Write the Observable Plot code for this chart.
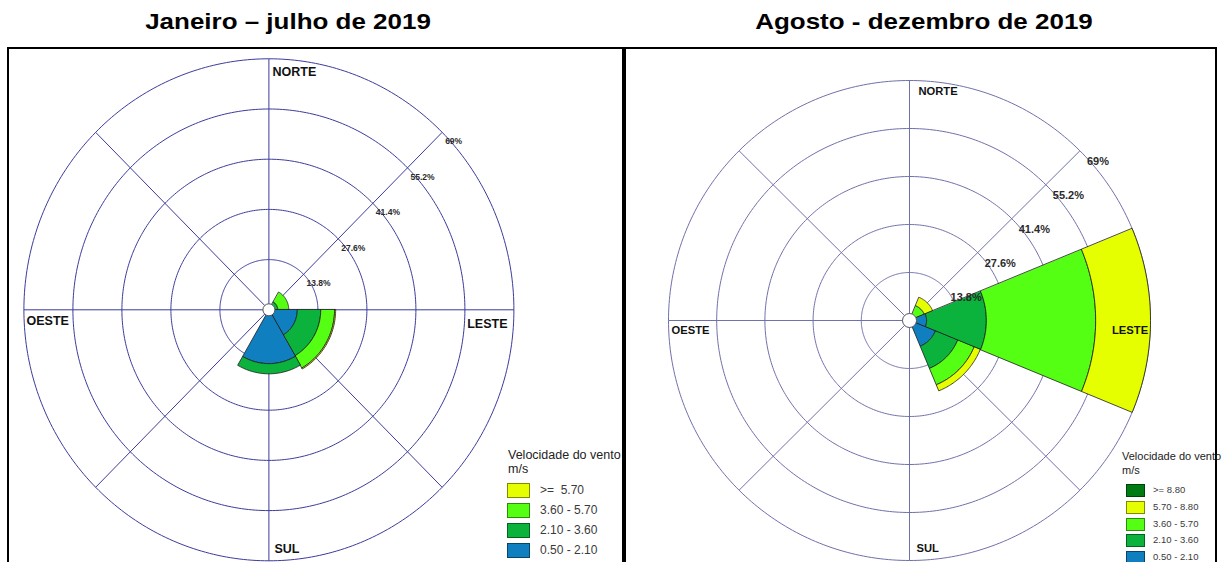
<!DOCTYPE html>
<html>
<head>
<meta charset="utf-8">
<script src="https://cdn.jsdelivr.net/npm/d3@7"></script>
<script src="https://cdn.jsdelivr.net/npm/@observablehq/plot@0.6"></script>
<style>
  html, body { margin: 0; padding: 0; background: #fff; }
  body { width: 1230px; height: 562px; overflow: hidden; position: relative; font-family: "Liberation Sans", Arial, sans-serif; }
  .title { position: absolute; top: 11px; font-weight: bold; font-size: 22px; line-height: 22px; white-space: nowrap; color: #000; transform: translateX(-50%) scaleX(1.18); }
  .panel { position: absolute; border: 2px solid #000; box-sizing: border-box; overflow: hidden; background: #fff; }
  .panel svg { position: absolute; left: 0; top: 0; }
  .lg { position: absolute; white-space: pre; color: #222; }
  .sw { position: absolute; box-sizing: border-box; border: 1px solid rgba(0,0,0,0.45); }
</style>
</head>
<body>
<script>
// ---------- shared data ----------
const ringValues = [13.8, 27.6, 41.4, 55.2, 69];
const ringLabels = ["13.8%", "27.6%", "41.4%", "55.2%", "69%"];
const cardinalLabels = ["NORTE", "LESTE", "SUL", "OESTE"];
const spokeBearings = [0, 45, 90, 135, 180, 225, 270, 315];
const legendTitle = "Velocidade do vento";
const legendUnit = "m/s";

// ---------- left panel: Janeiro – julho de 2019 ----------
const leftTitle = "Janeiro – julho de 2019";
const leftDirections = [60, 120, 180];          // sector centre bearings (deg)
const leftSectorWidth = 60;
const leftClassLabels = ["0.50 - 2.10", "2.10 - 3.60", "3.60 - 5.70", ">=  5.70"];
const leftClassColors = ["#0f7fc0", "#0bb33c", "#55ff14", "#e6ff00"];
const leftBlue = [0.8, 8.0, 14.8];
const leftGreen = [1.7, 6.6, 2.8];
const leftLightGreen = [3.1, 3.9, 0];
const leftYellow = [0, 0.3, 0];

// ---------- right panel: Agosto - dezembro de 2019 ----------
const rightTitle = "Agosto - dezembro de 2019";
const rightDirections = [45, 90, 135];
const rightSectorWidth = 45;
const rightClassLabels = ["0.50 - 2.10", "2.10 - 3.60", "3.60 - 5.70", "5.70 - 8.80", ">= 8.80"];
const rightClassColors = ["#0f7fc0", "#0bb33c", "#55ff14", "#e6ff00", "#007a12"];
const rightBlue = [0, 4.9, 8.0];
const rightGreen = [0, 17.1, 6.9];
const rightLightGreen = [4.6, 31.3, 5.1];
const rightYellow = [2.6, 15.7, 1.9];
const rightDarkGreen = [0, 0, 0];

// ---------- helpers ----------
const rad = d => d * Math.PI / 180;
function wedgeRows(directions, width, series, colors) {
  const rows = [];
  directions.forEach((dir, i) => {
    let r0 = 0;
    series.forEach((vals, k) => {
      const v = vals[i];
      if (!(v > 0)) return;
      const r1 = r0 + v, id = i + "-" + k, n = 40;
      const a0 = dir - width / 2, a1 = dir + width / 2;
      for (let j = 0; j <= n; j++) {
        const a = rad(a0 + (a1 - a0) * j / n);
        rows.push({id, color: colors[k], x: r1 * Math.sin(a), y: r1 * Math.cos(a)});
      }
      if (r0 > 0) {
        for (let j = n; j >= 0; j--) {
          const a = rad(a0 + (a1 - a0) * j / n);
          rows.push({id, color: colors[k], x: r0 * Math.sin(a), y: r0 * Math.cos(a)});
        }
      } else rows.push({id, color: colors[k], x: 0, y: 0});
      r0 = r1;
    });
  });
  return rows;
}
function ringRows(values) {
  const rows = [];
  values.forEach(v => { for (let a = 0; a < 360; a += 1) rows.push({ring: v, x: v * Math.sin(rad(a)), y: v * Math.cos(rad(a))}); });
  return rows;
}

function rose(cfg) {
  const maxR = ringValues[ringValues.length - 1];
  const font = "Liberation Sans, Arial, sans-serif";
  const cardPos = [[0, maxR], [maxR, 0], [0, -maxR], [-maxR, 0]];
  const cardMarks = cardinalLabels.map((lab, i) => Plot.text([lab], {
    x: () => cardPos[i][0], y: () => cardPos[i][1], text: d => d,
    textAnchor: cfg.card[i][2], lineAnchor: "middle", dx: cfg.card[i][0], dy: cfg.card[i][1],
    fontSize: cfg.cardSize, fontWeight: "bold", fill: "#111", fontFamily: font, ariaLabel: "lblbg"
  }));
  return Plot.plot({
    width: cfg.width, height: cfg.height, margin: 0,
    x: {domain: [-maxR, maxR], range: [cfg.cx - cfg.rx, cfg.cx + cfg.rx], axis: null},
    y: {domain: [-maxR, maxR], range: [cfg.cy + cfg.ry, cfg.cy - cfg.ry], axis: null},
    color: {type: "identity"},
    style: {background: "transparent", overflow: "visible"},
    marks: [
      Plot.line(ringRows(ringValues), {x: "x", y: "y", z: "ring", stroke: cfg.ringColor, strokeWidth: 1, curve: "linear-closed"}),
      Plot.link(spokeBearings, {x1: () => 0, y1: () => 0, x2: d => maxR * Math.sin(rad(d)), y2: d => maxR * Math.cos(rad(d)), stroke: cfg.ringColor, strokeWidth: 1}),
      Plot.line(wedgeRows(cfg.dirs, cfg.sectorWidth, cfg.series, cfg.colors), {x: "x", y: "y", z: "id", fill: "color", stroke: "#1c1c1c", strokeWidth: 0.8, curve: "linear-closed"}),
      Plot.dot([0], {x: () => 0, y: () => 0, r: cfg.hole, fill: "white", stroke: "#555", strokeWidth: 1}),
      Plot.text(ringValues, {x: d => d * Math.SQRT1_2, y: d => d * Math.SQRT1_2, text: (d, i) => ringLabels[i],
        textAnchor: "start", lineAnchor: "middle", dx: cfg.ringDx, dy: cfg.ringDy, fontSize: cfg.ringSize,
        fontWeight: "bold", fill: "#2a2a2a", fontFamily: font, ariaLabel: "lblbg"}),
      ...cardMarks
    ]
  });
}

function addLabelBoxes(svg) {
  svg.querySelectorAll('g[aria-label="lblbg"] text').forEach(t => {
    const b = t.getBBox();
    const r = document.createElementNS("http://www.w3.org/2000/svg", "rect");
    r.setAttribute("x", b.x - 1); r.setAttribute("y", b.y);
    r.setAttribute("width", b.width + 2); r.setAttribute("height", b.height);
    r.setAttribute("fill", "white");
    const tr = t.getAttribute("transform"); if (tr) r.setAttribute("transform", tr);
    t.parentNode.insertBefore(r, t);
  });
}

function addDiv(cls, style, text) {
  const d = document.createElement("div");
  d.className = cls; Object.assign(d.style, style);
  if (text != null) d.textContent = text;
  document.body.appendChild(d);
  return d;
}

function legend(cfg) {
  addDiv("lg", {left: cfg.x + "px", top: (cfg.titleY - 8) + "px", fontSize: cfg.titleSize + "px", lineHeight: "16px"}, legendTitle);
  addDiv("lg", {left: cfg.x + "px", top: (cfg.unitY - 8) + "px", fontSize: cfg.titleSize + "px", lineHeight: "16px"}, legendUnit);
  cfg.labels.forEach((lab, i) => {
    const cy = cfg.rowY[i];
    addDiv("sw", {left: cfg.swX + "px", top: (cy - cfg.swH / 2) + "px", width: cfg.swW + "px", height: cfg.swH + "px", background: cfg.colors[i]});
    addDiv("lg", {left: cfg.labX + "px", top: (cy - 7) + "px", fontSize: cfg.labSize + "px", lineHeight: "14px", color: "#3a3a3a"}, lab);
  });
}

// ---------- titles ----------
addDiv("title", {left: "288px"}, leftTitle);
addDiv("title", {left: "924px"}, rightTitle);

// ---------- panels ----------
const leftPanel = addDiv("panel", {left: "7px", top: "47px", width: "617px", height: "540px"});
const rightPanel = addDiv("panel", {left: "624px", top: "47px", width: "593px", height: "540px"});

const leftSvg = rose({
  width: 613, height: 520, cx: 259.4, cy: 260.3, rx: 245, ry: 251,
  dirs: leftDirections, sectorWidth: leftSectorWidth,
  series: [leftBlue, leftGreen, leftLightGreen, leftYellow], colors: leftClassColors,
  ringColor: "#3b3b9c", hole: 6, ringDx: 3, ringDy: 9, ringSize: 8.5, cardSize: 12.5,
  card: [[3.6, 12.7, "start"], [-6.4, 13.7, "end"], [5.6, -12.3, "start"], [2.6, 10.7, "start"]]
});
leftPanel.appendChild(leftSvg);

const rightSvg = rose({
  width: 589, height: 520, cx: 283, cy: 271, rx: 241, ry: 240,
  dirs: rightDirections, sectorWidth: rightSectorWidth,
  series: [rightBlue, rightGreen, rightLightGreen, rightYellow, rightDarkGreen], colors: rightClassColors,
  ringColor: "#7070aa", hole: 7, ringDx: 7, ringDy: 10.5, ringSize: 11, cardSize: 11.2,
  card: [[9, 11, "start"], [-2.4, 10, "end"], [7, -12, "start"], [3, 10, "start"]]
});
rightPanel.appendChild(rightSvg);

addLabelBoxes(leftSvg);
addLabelBoxes(rightSvg);

// ---------- legends ----------
legend({
  x: 508, titleY: 455, unitY: 469, titleSize: 12.5,
  labels: leftClassLabels.slice().reverse(), colors: leftClassColors.slice().reverse(),
  rowY: [490, 510, 530, 550], swX: 507, swW: 23, swH: 15, labX: 540, labSize: 12
});
legend({
  x: 1122, titleY: 456, unitY: 470, titleSize: 11,
  labels: rightClassLabels.slice().reverse(), colors: rightClassColors.slice().reverse(),
  rowY: [490, 507, 524, 540, 557], swX: 1126, swW: 19, swH: 13, labX: 1153, labSize: 9.5
});
</script>
</body>
</html>
